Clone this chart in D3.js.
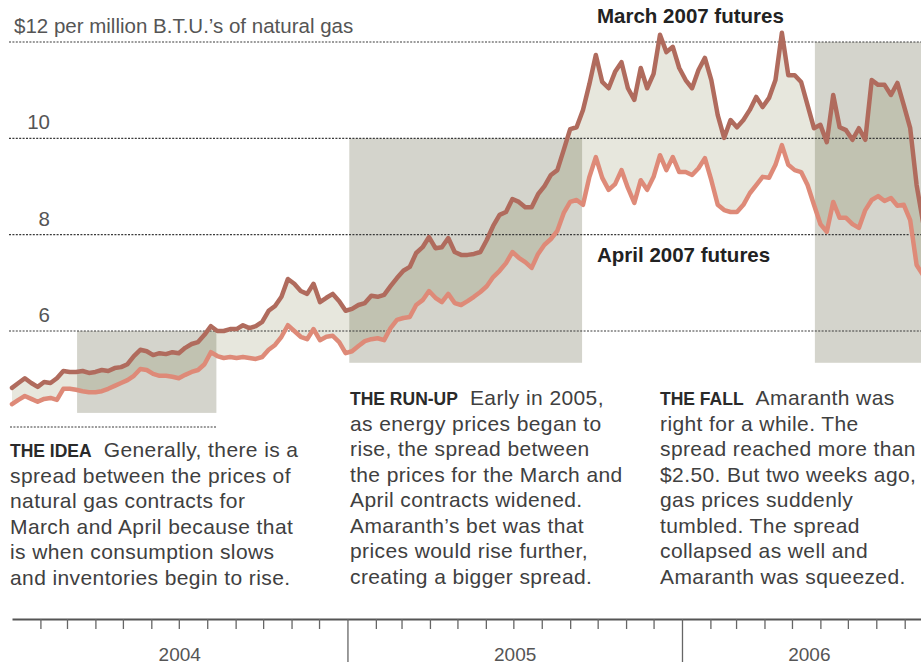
<!DOCTYPE html>
<html><head><meta charset="utf-8">
<script src="https://cdn.jsdelivr.net/npm/d3@7"></script>
<style>
body{margin:0;background:#fff;}
svg{display:block;font-family:"Liberation Sans",Arial,Helvetica,sans-serif;}
</style></head><body>
<svg id="chart" width="921" height="667"></svg>
<script>
// ---- data ----
const startDate = "2004-01-01";   // first weekly observation
const domainEnd = "2006-09-19";
// weekly settlement prices, $ per million B.T.U.
const march = [4.82,4.92,5.02,4.92,4.84,4.94,4.92,5.02,5.17,5.15,
  5.15,5.17,5.13,5.15,5.19,5.17,5.23,5.25,5.31,5.48,
  5.61,5.58,5.50,5.54,5.52,5.56,5.54,5.65,5.73,5.77,
  5.92,6.10,6.00,6.00,6.04,6.04,6.12,6.06,6.10,6.19,
  6.42,6.52,6.71,7.08,6.98,6.83,6.77,6.98,6.60,6.69,
  6.77,6.62,6.42,6.46,6.54,6.58,6.73,6.71,6.75,6.93,
  7.10,7.25,7.33,7.62,7.74,7.95,7.72,7.74,7.93,7.64,
  7.58,7.58,7.60,7.64,7.89,8.18,8.41,8.47,8.74,8.68,
  8.57,8.57,8.84,9.01,9.24,9.34,9.76,10.19,10.23,10.59,
  11.13,11.73,11.17,11.04,11.38,11.58,11.04,10.80,11.46,11.04,
  11.34,12.15,11.79,11.90,11.46,11.21,11.04,11.42,11.67,11.21,
  10.48,10.01,10.38,10.23,10.38,10.59,10.86,10.65,10.84,11.21,
  12.19,11.31,11.31,11.17,10.69,10.21,10.28,9.92,10.90,10.23,
  10.17,9.97,10.21,9.97,11.21,11.11,11.11,10.90,11.15,10.69,
  10.21,9.03,8.26];
const april = [4.48,4.57,4.65,4.59,4.53,4.59,4.61,4.57,4.80,4.80,
  4.78,4.75,4.73,4.73,4.75,4.80,4.86,4.92,4.98,5.07,
  5.21,5.19,5.11,5.07,5.07,5.05,5.02,5.09,5.15,5.19,
  5.31,5.56,5.48,5.44,5.46,5.44,5.46,5.44,5.42,5.46,
  5.61,5.71,5.88,6.12,6.00,5.88,5.83,6.04,5.81,5.88,
  5.90,5.77,5.54,5.58,5.69,5.79,5.83,5.85,5.81,6.06,
  6.23,6.27,6.29,6.54,6.64,6.83,6.69,6.60,6.77,6.58,
  6.54,6.62,6.71,6.81,6.93,7.12,7.25,7.41,7.64,7.52,
  7.43,7.31,7.60,7.79,7.91,8.08,8.45,8.68,8.72,8.62,
  9.20,9.61,9.18,8.93,9.05,9.34,8.97,8.66,9.13,8.93,
  9.20,9.65,9.34,9.61,9.30,9.30,9.24,9.38,9.59,9.13,
  8.62,8.51,8.47,8.47,8.62,8.86,9.03,9.20,9.18,9.45,
  9.86,9.45,9.34,9.30,9.03,8.62,8.22,8.06,8.68,8.35,
  8.35,8.22,8.14,8.51,8.72,8.80,8.70,8.76,8.60,8.62,
  8.30,7.37,7.16];
const yTicks = [6, 8, 10, 12];
const yTitle = " per million B.T.U.’s of natural gas";
const yearLabels = ["2004", "2005", "2006"];
const yearLabelDates = ["2004-07-02", "2005-07-03", "2006-05-20"];
const periodNames = ["THE IDEA", "THE RUN-UP", "THE FALL"];
const periodStart = ["2004-03-12", "2005-01-03", "2006-05-26"];
const periodEnd   = ["2004-08-11", "2005-09-14", "2006-10-15"];
const periodLow   = [4.3, 5.34, 5.34];
const periodHigh  = [6, 10, 12];
const seriesNames = ["March 2007 futures", "April 2007 futures"];
const notes = [
  {head:"THE IDEA", first:"Generally, there is a", lines:["spread between the prices of","natural gas contracts for","March and April because that","is when consumption slows","and inventories begin to rise."]},
  {head:"THE RUN-UP", first:"Early in 2005,", lines:["as energy prices began to","rise, the spread between","the prices for the March and","April contracts widened.","Amaranth’s bet was that","prices would rise further,","creating a bigger spread."]},
  {head:"THE FALL", first:"Amaranth was", lines:["right for a while. The","spread reached more than","$2.50. But two weeks ago,","gas prices suddenly","tumbled. The spread","collapsed as well and","Amaranth was squeezed."]}
];

// ---- setup ----
const parse = d3.timeParse("%Y-%m-%d");
const t0 = parse(startDate);
const data = march.map((m, i) => ({date: d3.timeDay.offset(t0, 7 * i), march: m, april: april[i]}));

const svg = d3.select("#chart");
const x = d3.scaleTime().domain([parse(startDate), parse(domainEnd)]).range([12, 921.2]);
const y = d3.scaleLinear().domain([6, 12]).range([331, 42]);

const periods = periodNames.map((n, i) => ({name: n, start: parse(periodStart[i]), end: parse(periodEnd[i]), low: periodLow[i], high: periodHigh[i]}));

// shaded period boxes
svg.append("g").selectAll("rect").data(periods).join("rect")
  .attr("x", d => x(d.start)).attr("y", d => y(d.high))
  .attr("width", d => x(d.end) - x(d.start)).attr("height", d => y(d.low) - y(d.high))
  .attr("fill", "#d4d4cc");

// clip for darker spread inside boxes
const clip = svg.append("defs").append("clipPath").attr("id", "boxes");
clip.selectAll("rect").data(periods).join("rect")
  .attr("x", d => x(d.start)).attr("y", d => y(d.high))
  .attr("width", d => x(d.end) - x(d.start)).attr("height", d => y(d.low) - y(d.high));

const area = d3.area().x(d => x(d.date)).y0(d => y(d.april)).y1(d => y(d.march));
svg.append("path").datum(data).attr("d", area).attr("fill", "#e7e7dd");
svg.append("path").datum(data).attr("d", area).attr("fill", "#c1c2b1").attr("clip-path", "url(#boxes)");

// gridlines
const grid = svg.append("g");
grid.selectAll("line").data(yTicks).join("line")
  .attr("x1", 9).attr("x2", 921).attr("y1", d => y(d)).attr("y2", d => y(d))
  .attr("stroke", "#3a3a3a").attr("stroke-width", 1.2).attr("stroke-dasharray", "2,1.4");

// separator under idea chart
svg.append("line").attr("x1", 10).attr("x2", 216).attr("y1", 427).attr("y2", 427)
  .attr("stroke", "#3a3a3a").attr("stroke-width", 1.2).attr("stroke-dasharray", "2,1.4");

// y labels
const yl = svg.append("g").attr("fill", "#555").style("font-size", "20.5px");
yl.selectAll("text").data(yTicks.filter(t => t !== 12)).join("text")
  .attr("x", 50).attr("y", d => y(d) - 9).attr("text-anchor", "end").text(d => d);
yl.append("text").attr("x", 14).attr("y", y(12) - 9).text("$12" + yTitle);

// lines
const lineM = d3.line().x(d => x(d.date)).y(d => y(d.march));
const lineA = d3.line().x(d => x(d.date)).y(d => y(d.april));
svg.append("path").datum(data).attr("d", lineA).attr("fill", "none")
  .attr("stroke", "#de8a78").attr("stroke-width", 4.5).attr("stroke-linejoin", "round").attr("stroke-linecap", "round");
svg.append("path").datum(data).attr("d", lineM).attr("fill", "none")
  .attr("stroke", "#b06b5d").attr("stroke-width", 4.5).attr("stroke-linejoin", "round").attr("stroke-linecap", "round");

// series labels
svg.append("text").attr("x", 597).attr("y", 23).attr("font-weight", "bold")
  .style("font-size", "20.5px").attr("fill", "#222").text(seriesNames[0]);
svg.append("text").attr("x", 597).attr("y", 262).attr("font-weight", "bold")
  .style("font-size", "20.5px").attr("fill", "#222").text(seriesNames[1]);

// annotations
const noteX = [10, 350, 660];
const noteY = [457, 405, 405];
notes.forEach((n, i) => {
  const t = svg.append("text").attr("x", noteX[i]).attr("y", noteY[i])
    .style("font-size", "21px").style("letter-spacing", "0.4px").attr("fill", "#404040");
  t.append("tspan").attr("font-weight", "bold").style("font-size", "17.5px").style("letter-spacing", "0px")
    .attr("fill", "#2a2a2a").text(n.head);
  t.append("tspan").attr("dx", 12).text(n.first);
  n.lines.forEach((l, j) => {
    t.append("tspan").attr("x", noteX[i]).attr("y", noteY[i] + 25.5 * (j + 1)).text(l);
  });
});

// x axis
const xAxis = d3.axisBottom(x).ticks(d3.timeMonth.every(1)).tickFormat("").tickSizeInner(10).tickSizeOuter(0);
const gx = svg.append("g").attr("transform", "translate(0,619)").call(xAxis);
gx.select(".domain").attr("stroke", "#555").attr("stroke-width", 2);
gx.selectAll(".tick").filter(d => +d === +x.domain()[0]).remove();
gx.selectAll(".tick line").attr("stroke", "#666").attr("stroke-width", 1.3)
  .attr("y2", d => d.getMonth() === 0 ? 43 : 10);

svg.append("g").attr("fill", "#555").style("font-size", "19px").attr("text-anchor", "middle")
  .selectAll("text").data(yearLabels).join("text")
  .attr("x", (d, i) => x(parse(yearLabelDates[i]))).attr("y", 661).text(d => d);
</script>
</body></html>
